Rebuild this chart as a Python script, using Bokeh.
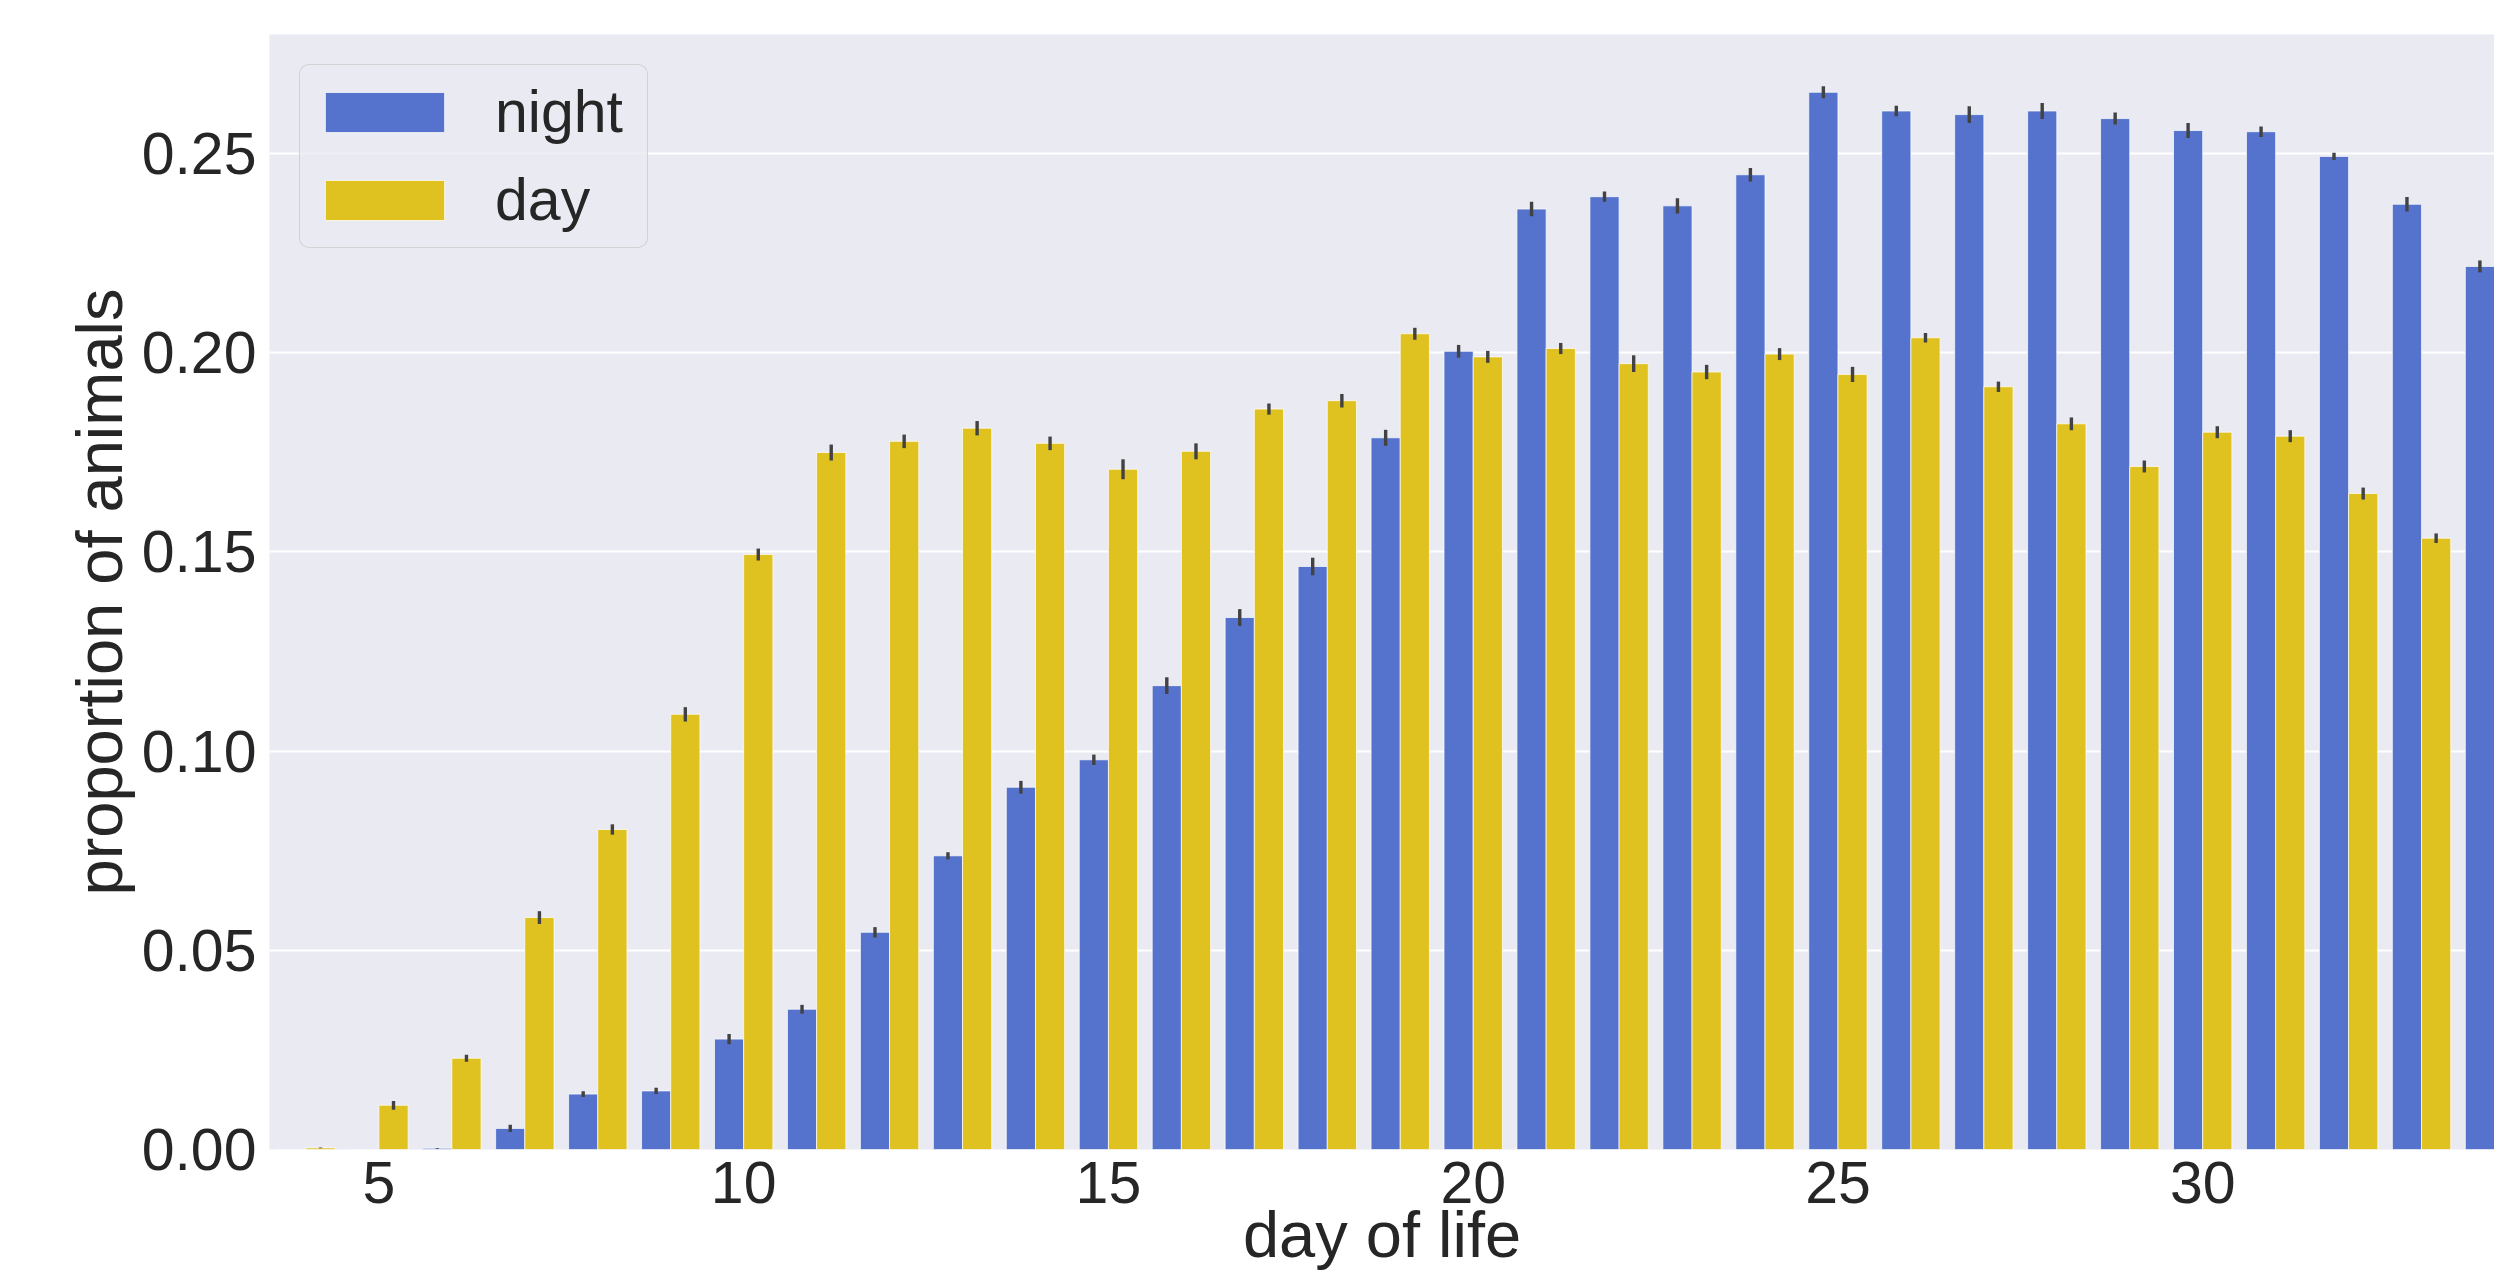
from bokeh.plotting import figure
from bokeh.models import (ColumnDataSource, Range1d, FixedTicker, Legend, LegendItem,
                          NumeralTickFormatter)
from bokeh.transform import dodge
from bokeh.embed import file_html
from bokeh.resources import INLINE

# ---- data ----
days = list(range(4, 35))
night = [0.0, 0.0, 0.0003, 0.0053, 0.0139, 0.0147, 0.0277, 0.0352, 0.0545, 0.0737,
         0.0909, 0.0978, 0.1164, 0.1335, 0.1463, 0.1786, 0.2003, 0.2360, 0.2391, 0.2368,
         0.2446, 0.2653, 0.2606, 0.2597, 0.2606, 0.2587, 0.2557, 0.2554, 0.2492, 0.2372,
         0.2216]
day = [0.0004, 0.0111, 0.0229, 0.0582, 0.0803, 0.1092, 0.1493, 0.1749, 0.1777, 0.1810,
       0.1772, 0.1707, 0.1752, 0.1858, 0.1879, 0.2047, 0.1989, 0.2010, 0.1972, 0.1951,
       0.1996, 0.1945, 0.2037, 0.1914, 0.1821, 0.1714, 0.1800, 0.1790, 0.1646, 0.1534,
       0.1587]
night_err = [0.0, 0.0, 0.0001, 0.0009, 0.0007, 0.0008, 0.0013, 0.0011, 0.0013, 0.0009,
             0.0016, 0.0013, 0.0021, 0.0021, 0.0022, 0.0020, 0.0016, 0.0018, 0.0013, 0.0019,
             0.0017, 0.0015, 0.0013, 0.0021, 0.0020, 0.0015, 0.0019, 0.0013, 0.0009, 0.0018,
             0.0015]
day_err = [0.0001, 0.0011, 0.0009, 0.0016, 0.0013, 0.0018, 0.0015, 0.0020, 0.0017, 0.0018,
           0.0017, 0.0025, 0.0020, 0.0014, 0.0017, 0.0015, 0.0015, 0.0014, 0.0021, 0.0018,
           0.0015, 0.0019, 0.0012, 0.0013, 0.0016, 0.0015, 0.0015, 0.0015, 0.0015, 0.0012,
           0.0015]
x_ticks = [5, 10, 15, 20, 25, 30]
y_ticks = [0.0, 0.05, 0.10, 0.15, 0.20, 0.25]
series_names = ["night", "day"]

# ---- styling ----
BLUE = "#5573CD"
GOLD = "#DFC120"
BG = "#EAEAF2"
TXT = "#262626"
ERR = "#424242"
FONT = "Liberation Sans"

src = ColumnDataSource(dict(
    day=days, night=night, dayv=day,
    n_lo=[v - e for v, e in zip(night, night_err)],
    n_hi=[v + e for v, e in zip(night, night_err)],
    d_lo=[v - e for v, e in zip(day, day_err)],
    d_hi=[v + e for v, e in zip(day, day_err)],
))

W, H = 2494, 1273
p = figure(width=W, height=H, output_backend="svg", toolbar_location=None,
           x_range=Range1d(3.5, 34.0), y_range=Range1d(0, 0.2798),
           min_border_left=269, min_border_top=34, min_border_right=0,
           min_border_bottom=123)
p.background_fill_color = BG
p.border_fill_color = "white"
p.outline_line_color = None

n_r = p.vbar(x=dodge("day", -0.2), top="night", width=0.4, source=src,
             fill_color=BLUE, line_color="white", line_width=1, line_alpha=0.7)
d_r = p.vbar(x=dodge("day", 0.2), top="dayv", width=0.4, source=src,
             fill_color=GOLD, line_color="white", line_width=1, line_alpha=0.7)
p.segment(x0=dodge("day", -0.2), x1=dodge("day", -0.2), y0="n_lo", y1="n_hi",
          source=src, line_color=ERR, line_width=3.4)
p.segment(x0=dodge("day", 0.2), x1=dodge("day", 0.2), y0="d_lo", y1="d_hi",
          source=src, line_color=ERR, line_width=3.4)

# grid
p.xgrid.grid_line_color = None
p.ygrid.grid_line_color = "white"
p.ygrid.grid_line_width = 2
p.ygrid.ticker = FixedTicker(ticks=y_ticks)

# axes
for ax in (p.xaxis[0], p.yaxis[0]):
    ax.axis_line_color = None
    ax.major_tick_line_color = None
    ax.minor_tick_line_color = None
    ax.major_tick_out = 0
    ax.major_tick_in = 0
    ax.minor_tick_out = 0
    ax.major_label_text_font = FONT
    ax.major_label_text_font_size = "59px"
    ax.major_label_text_color = TXT
    ax.axis_label_text_font = FONT
    ax.axis_label_text_font_size = "65px"
    ax.axis_label_text_font_style = "normal"
    ax.axis_label_text_color = TXT

p.xaxis.ticker = FixedTicker(ticks=x_ticks)
p.xaxis.major_label_standoff = 12
p.xaxis.axis_label = "day of life"
p.xaxis.axis_label_standoff = -8

p.yaxis.ticker = FixedTicker(ticks=y_ticks)
p.yaxis.formatter = NumeralTickFormatter(format="0.00")
p.yaxis.major_label_standoff = 13
p.yaxis.axis_label = "proportion of animals"
p.yaxis.axis_label_standoff = 3

legend = Legend(items=[LegendItem(label=series_names[0], renderers=[n_r]),
                       LegendItem(label=series_names[1], renderers=[d_r])],
                location="top_left", margin=30, padding=10, spacing=14,
                glyph_width=149, glyph_height=50, label_standoff=36,
                label_width=142, label_height=74,
                label_text_font=FONT, label_text_font_size="59px",
                label_text_color=TXT,
                background_fill_color=BG, background_fill_alpha=0.8,
                border_line_color="#CCCCCC", border_line_width=1.5,
                border_line_alpha=0.8)
try:
    legend.border_radius = 10
except Exception:
    pass
p.add_layout(legend)

open("out.html", "w").write(file_html(p, INLINE))
